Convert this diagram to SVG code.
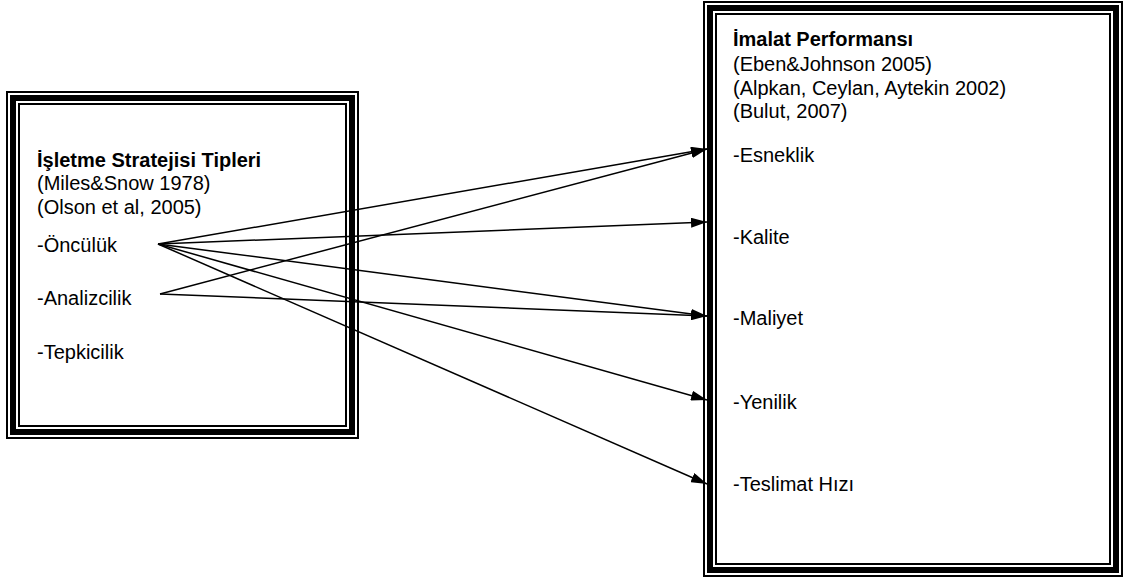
<svg xmlns="http://www.w3.org/2000/svg" width="1125" height="578" viewBox="0 0 1125 578">
  <defs>
    <marker id="arrow" viewBox="0 0 16 10" refX="16" refY="5" markerWidth="16" markerHeight="10" markerUnits="userSpaceOnUse" orient="auto">
      <path d="M0,0 L16,5 L0,10 Z" fill="#000"/>
    </marker>
  </defs>
  <style>
    text { font-family: "Liberation Sans", Arial, sans-serif; font-size: 20px; fill: #000; }
    .title { font-weight: bold; }
    .thin { fill: none; stroke: #000; stroke-width: 2; }
    .thick { fill: none; stroke: #000; stroke-width: 6; }
    .link { fill: none; stroke: #000; stroke-width: 1.5; marker-end: url(#arrow); }
  </style>
  <rect width="1125" height="578" fill="#fff"/>

  <!-- left node: strategy types -->
  <g id="strategy-types">
    <rect class="thin" x="7" y="92" width="351" height="346"/>
    <rect class="thick" x="13" y="98" width="339" height="334"/>
    <rect class="thin" x="19" y="104" width="327" height="322"/>
    <text class="title" x="37" y="167">İşletme Stratejisi Tipleri</text>
    <text x="37" y="190">(Miles&amp;Snow 1978)</text>
    <text x="37" y="214">(Olson et al, 2005)</text>
    <text x="37" y="252">-Öncülük</text>
    <text x="37" y="305">-Analizcilik</text>
    <text x="37" y="359">-Tepkicilik</text>
  </g>

  <!-- right node: manufacturing performance -->
  <g id="manufacturing-performance">
    <rect class="thin" x="704" y="2" width="418" height="574"/>
    <rect class="thick" x="710" y="8" width="406" height="562"/>
    <rect class="thin" x="716" y="14" width="394" height="550"/>
    <text class="title" x="733" y="46">İmalat Performansı</text>
    <text x="733" y="71">(Eben&amp;Johnson 2005)</text>
    <text x="733" y="95">(Alpkan, Ceylan, Aytekin 2002)</text>
    <text x="733" y="118">(Bulut, 2007)</text>
    <text x="733" y="162">-Esneklik</text>
    <text x="733" y="244">-Kalite</text>
    <text x="733" y="325">-Maliyet</text>
    <text x="733" y="409">-Yenilik</text>
    <text x="733" y="491">-Teslimat Hızı</text>
  </g>

  <!-- connectors -->
  <g id="connectors">
    <line class="link" x1="158" y1="244" x2="707" y2="149"/>
    <line class="link" x1="158" y1="244" x2="707" y2="222"/>
    <line class="link" x1="158" y1="244" x2="707" y2="316"/>
    <line class="link" x1="158" y1="244" x2="707" y2="400"/>
    <line class="link" x1="158" y1="244" x2="707" y2="484"/>
    <line class="link" x1="160" y1="294" x2="707" y2="149"/>
    <line class="link" x1="160" y1="294" x2="707" y2="316"/>
  </g>
</svg>
